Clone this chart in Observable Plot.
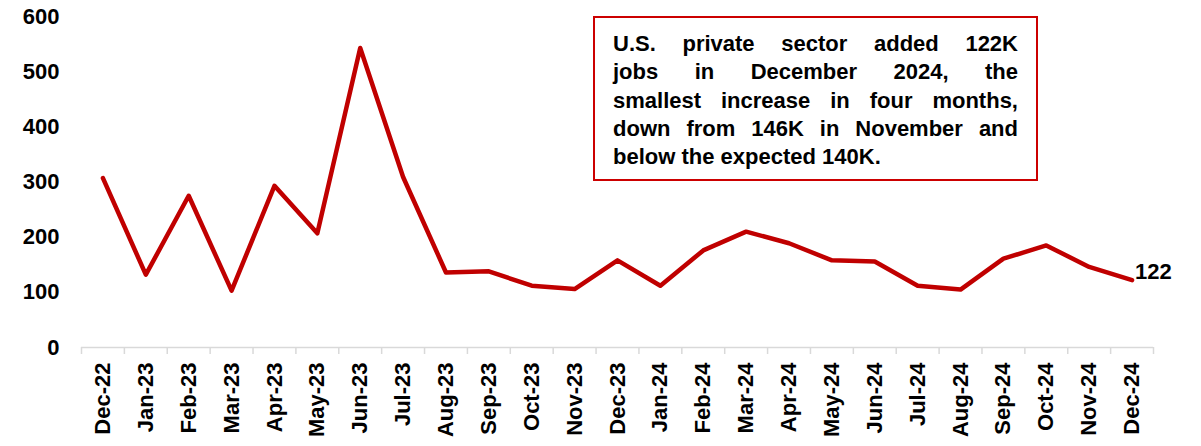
<!DOCTYPE html>
<html>
<head>
<meta charset="utf-8">
<script src="https://cdn.jsdelivr.net/npm/d3@7"></script>
<script src="https://cdn.jsdelivr.net/npm/@observablehq/plot@0.6"></script>
<style>
  body { margin: 0; background: #fff; }
  #chart { position: relative; width: 1201px; height: 446px; font-family: "Liberation Sans", Arial, sans-serif; }
  #chart svg { display: block; }
  .note {
    position: absolute; left: 593px; top: 16px;
    width: 405px; height: 149px;
    padding: 12px 18px 0 18px;
    border: 2px solid #cc0000; background: #fff;
    font-family: "Liberation Sans", Arial, sans-serif;
    font-weight: bold; font-size: 22px; line-height: 28.3px; color: #000;
  }
  .note span { display: block; white-space: nowrap; text-align: justify; text-align-last: justify; }
  .note span:last-child { text-align-last: left; }
</style>
</head>
<body>
<div id="chart"></div>
<script>
// ADP private payrolls, monthly change (thousands)
const months = ["Dec-22","Jan-23","Feb-23","Mar-23","Apr-23","May-23","Jun-23","Jul-23","Aug-23","Sep-23","Oct-23","Nov-23","Dec-23",
                "Jan-24","Feb-24","Mar-24","Apr-24","May-24","Jun-24","Jul-24","Aug-24","Sep-24","Oct-24","Nov-24","Dec-24"];
const jobs = [307, 132, 275, 103, 293, 207, 543, 309, 136, 138, 112, 106, 158,
              112, 176, 210, 189, 158, 156, 112, 105, 161, 185, 146, 122];
const yTicks = [0, 100, 200, 300, 400, 500, 600];
const noteLines = [
  "U.S. private sector added 122K",
  "jobs in December 2024, the",
  "smallest increase in four months,",
  "down from 146K in November and",
  "below the expected 140K."
];

const idx = months.map((_, i) => i);
const boundaries = months.map((_, i) => i - 0.5).concat([months.length - 0.5]);
const last = months.length - 1;

const chart = Plot.plot({
  width: 1201,
  height: 446,
  marginLeft: 81,
  marginRight: 48,
  marginTop: 16,
  marginBottom: 99,
  style: { fontFamily: '"Liberation Sans", Arial, sans-serif', fontWeight: "bold", color: "#000", background: "#fff" },
  x: { type: "linear", domain: [-0.5, months.length - 0.5] },
  y: { domain: [0, 600] },
  marks: [
    Plot.ruleY([0], { stroke: "#d9d9d9", strokeWidth: 1.5 }),
    Plot.ruleX(boundaries, { y1: 0, y2: 0, insetBottom: -7, stroke: "#d9d9d9", strokeWidth: 1.5 }),
    Plot.axisY(yTicks, { tickSize: 0, tickPadding: 22, fontSize: 22, fontWeight: "bold", label: null }),
    Plot.axisX(idx, { tickSize: 0, tickPadding: 15, tickRotate: -90, fontSize: 22, fontWeight: "bold",
                      tickFormat: i => months[i], label: null }),
    Plot.line(jobs, { x: (d, i) => i, y: d => d, stroke: "#c00000", strokeWidth: 4.5,
                      strokeLinejoin: "round", strokeLinecap: "round" }),
    Plot.text([last], { x: i => i, y: i => jobs[i], text: i => String(jobs[i]),
                        textAnchor: "start", dx: 3, dy: -8, fontSize: 22, fontWeight: "bold", fill: "#000" })
  ]
});

const root = document.getElementById("chart");
root.appendChild(chart);

const note = document.createElement("div");
note.className = "note";
noteLines.forEach(t => {
  const s = document.createElement("span");
  s.textContent = t;
  note.appendChild(s);
});
root.appendChild(note);
</script>
</body>
</html>
